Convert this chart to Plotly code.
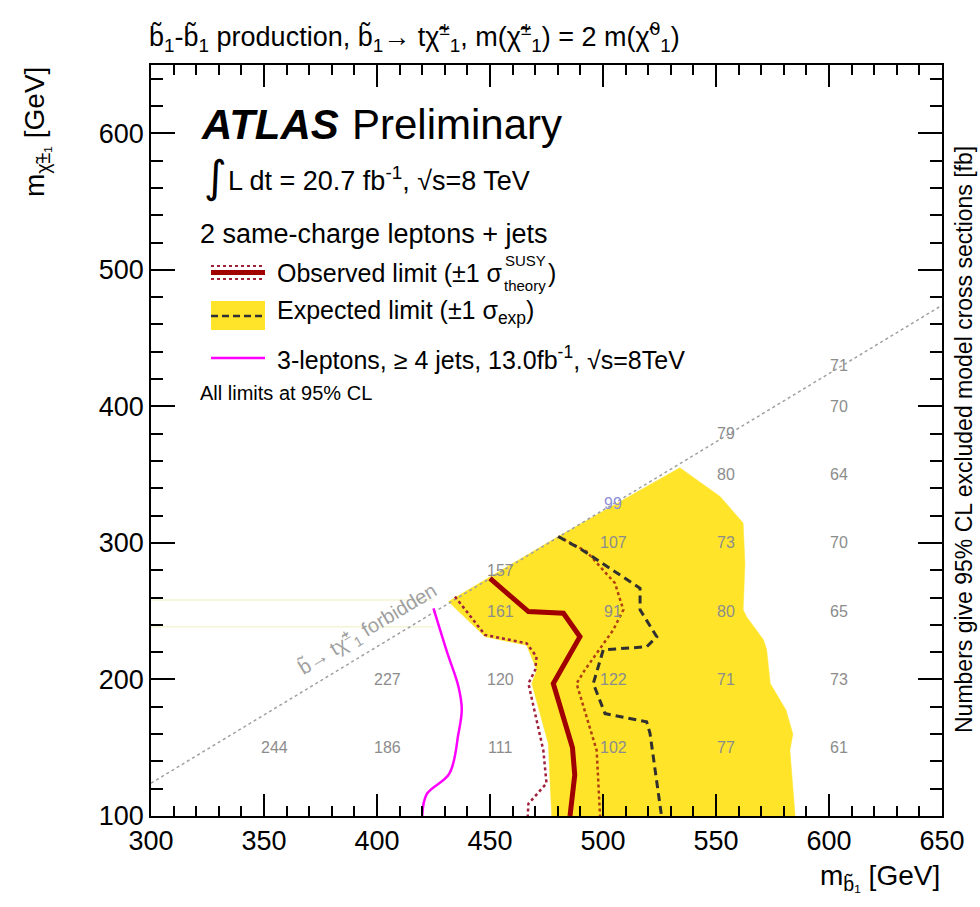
import plotly.graph_objects as go

# ---------------- data ----------------
# kinematic boundary (b~ -> t chi+-), endpoints
forbidden_x = [300, 650]
forbidden_y = [124, 474]

# expected limit +-1 sigma band (yellow)
band_x = [477.3, 475.8, 468.5, 470.7, 466.2, 447.8, 431.6, 480.2, 534.0, 551.8, 562.0,
          562.8, 562.0, 563.5, 571.0, 572.4, 574.0, 581.0, 584.0, 582.7, 585.0]
band_y = [100, 153, 197, 207, 225, 231.3, 257, 304.7, 355, 334, 314.5,
          285, 251, 246, 229, 222, 197, 177.5, 160, 148, 100]

# observed limit
obs_x = [450, 467, 482.5, 489.8, 478, 486.5, 487.5, 485.4]
obs_y = [274, 249.7, 248.5, 231.3, 197, 150, 130, 100]
# observed -1 sigma (theory)
obs_lo_x = [434.5, 447.8, 466.2, 470.6, 470.0, 467.0, 473.6, 475.0, 467.0, 466.7]
obs_lo_y = [260.7, 232.6, 226.5, 216.7, 207, 197, 148, 124, 109, 100]
# observed +1 sigma (theory)
obs_hi_x = [480.2, 492.7, 505.3, 509.0, 504.5, 492.0, 488.3, 497.2, 498.7]
obs_hi_y = [304.7, 293.7, 270.5, 251, 236.2, 207, 197, 148, 100]
# expected limit
exp_x = [480.2, 490.6, 516.4, 516.4, 523.8, 519.4, 500.1, 495.7, 500.9, 519.3, 520.8, 525.9]
exp_y = [304.7, 295, 266.8, 251, 231.3, 224, 221.6, 197, 175, 169, 160.6, 100]
# 3-leptons, >=4 jets, 13.0 fb-1
lep3_x = [425, 431, 436, 437.5, 436, 432, 422, 420]
lep3_y = [252, 220, 195, 178, 160, 131, 116, 100]

# faint horizontal artefact lines
faint_y = [238.6, 258.2]
faint_x = [300, 425]

# excluded cross-section numbers [fb]
num_x = [350, 400, 450, 500, 550, 600,
         400, 450, 500, 550, 600,
         450, 500, 550, 600,
         500, 550, 600,
         550, 600,
         600,
         450, 500, 550, 600]
num_y = [150, 150, 150, 150, 150, 150,
         200, 200, 200, 200, 200,
         250, 250, 250, 250,
         300, 300, 300,
         350, 350,
         400,
         280, 329, 380, 430]
num_txt = ["244", "186", "111", "102", "77", "61",
           "227", "120", "122", "71", "73",
           "161", "91", "80", "65",
           "107", "73", "70",
           "80", "64",
           "70",
           "157", "99", "79", "71"]

x_range = [300, 650]
y_range = [100, 650]

# ---------------- figure ----------------
FONT = "Liberation Sans, Arial, Helvetica, sans-serif"
YELLOW = "#FFE42A"
DARKRED = "#A00000"

fig = go.Figure()

for fy in faint_y:
    fig.add_trace(go.Scatter(x=faint_x, y=[fy, fy], mode="lines",
                             line=dict(color="#F4F4D6", width=1.5),
                             hoverinfo="skip", showlegend=False))

fig.add_trace(go.Scatter(x=band_x, y=band_y, fill="toself", fillcolor=YELLOW,
                         mode="lines", line=dict(color=YELLOW, width=0.5),
                         hoverinfo="skip", showlegend=False))

fig.add_trace(go.Scatter(x=forbidden_x, y=forbidden_y, mode="lines",
                         line=dict(color="#A0A0A0", width=1.5, dash="dot"),
                         showlegend=False))

fig.add_trace(go.Scatter(x=lep3_x, y=lep3_y, mode="lines", line_shape="spline",
                         line=dict(color="#FF00FF", width=2.5), showlegend=False))

fig.add_trace(go.Scatter(x=obs_lo_x, y=obs_lo_y, mode="lines",
                         line=dict(color="#A0203A", width=2.5, dash="dot"), showlegend=False))
fig.add_trace(go.Scatter(x=obs_hi_x, y=obs_hi_y, mode="lines",
                         line=dict(color="#B04010", width=2.5, dash="dot"), showlegend=False))
fig.add_trace(go.Scatter(x=exp_x, y=exp_y, mode="lines",
                         line=dict(color="#303030", width=3, dash="8px,5px"), showlegend=False))
fig.add_trace(go.Scatter(x=obs_x, y=obs_y, mode="lines",
                         line=dict(color=DARKRED, width=5), showlegend=False))

annotations = []
for x, y, t in zip(num_x, num_y, num_txt):
    col = "#8C8C8C"
    if t == "99":
        col = "#9090D8"
    annotations.append(dict(x=x, y=y, xref="x", yref="y", text=t, showarrow=False,
                            xshift=10, font=dict(family=FONT, size=16, color=col)))

# forbidden label
annotations.append(dict(x=396, y=237, xref="x", yref="y",
                        text="b\u0303\u2192 t\u03c7\u0303<sup>\u00b1</sup><sub>1</sub> forbidden",
                        textangle=-31, showarrow=False,
                        font=dict(family=FONT, size=20, color="#A0A0A0")))


def px(xp):
    return (xp - 151) / 791.0


def py(yp):
    return (816 - yp) / 751.0


def txt(x, y, text, size, anchor="left", family=FONT, angle=0, yanchor="middle"):
    annotations.append(dict(x=px(x), y=py(y), xref="paper", yref="paper", xanchor=anchor,
                            yanchor=yanchor, showarrow=False, text=text, textangle=angle,
                            font=dict(family=family, size=size, color="black")))


# title
txt(147, 37,
    "b\u0303<sub>1</sub>-b\u0303<sub>1</sub> production, b\u0303<sub>1</sub>\u2192 t\u03c7\u0303<sup>\u00b1</sup><sub>1</sub>, "
    "m(\u03c7\u0303<sup>\u00b1</sup><sub>1</sub>) = 2 m(\u03c7\u0303<sup>0</sup><sub>1</sub>)", 27)

# ATLAS Preliminary
txt(199, 124, "<b><i>ATLAS</i></b>", 42)
txt(350, 124, "Preliminary", 42)
txt(202, 176, "\u222b", 44, family="DejaVu Sans, " + FONT)
txt(226, 179, "L dt = 20.7 fb<sup>-1</sup>, \u221as=8 TeV", 27)
txt(198, 234, "2 same-charge leptons + jets", 27)
txt(275, 273, "Observed limit (\u00b11 \u03c3", 25)
txt(525, 260, "SUSY", 15, anchor="center")
txt(525, 285, "theory", 15, anchor="center")
txt(546, 273, ")", 25)
txt(275, 312, "Expected limit (\u00b11 \u03c3<sub>exp</sub>)", 25)
txt(275, 358, "3-leptons, \u2265 4 jets, 13.0fb<sup>-1</sup>, \u221as=8TeV", 25)
txt(198, 393, "All limits at 95% CL", 20)

# axis titles
txt(942, 877, "m<sub>b\u0303\u2081</sub> [GeV]", 28, anchor="right")
annotations.append(dict(x=px(36), y=1.0, xref="paper", yref="paper", xanchor="center",
                        yanchor="top", showarrow=False, textangle=-90,
                        text="m<sub>\u03c7\u0303\u00b1\u2081</sub> [GeV]",
                        font=dict(family=FONT, size=28, color="black")))
annotations.append(dict(x=px(964), y=py(440), xref="paper", yref="paper", xanchor="center",
                        yanchor="middle", showarrow=False, textangle=-90,
                        text="Numbers give 95% CL excluded model cross sections [fb]",
                        font=dict(family=FONT, size=23, color="black")))

shapes = [
    dict(type="line", xref="paper", yref="paper", x0=px(211), x1=px(265), y0=py(266), y1=py(266),
         line=dict(color="#A0203A", width=2, dash="dot")),
    dict(type="line", xref="paper", yref="paper", x0=px(211), x1=px(265), y0=py(272.5), y1=py(272.5),
         line=dict(color=DARKRED, width=5)),
    dict(type="line", xref="paper", yref="paper", x0=px(211), x1=px(265), y0=py(279), y1=py(279),
         line=dict(color="#A0203A", width=2, dash="dot")),
    dict(type="rect", xref="paper", yref="paper", x0=px(211), x1=px(265), y0=py(330), y1=py(301),
         fillcolor=YELLOW, line=dict(width=0)),
    dict(type="line", xref="paper", yref="paper", x0=px(211), x1=px(265), y0=py(316), y1=py(316),
         line=dict(color="#303030", width=2.5, dash="7px,4px")),
    dict(type="line", xref="paper", yref="paper", x0=px(211), x1=px(265), y0=py(358), y1=py(358),
         line=dict(color="#FF00FF", width=2.5)),
]

axis_common = dict(showline=True, linecolor="black", linewidth=1.5, mirror="ticks",
                   ticks="inside", tickcolor="black", tickwidth=1.5, showgrid=False,
                   zeroline=False, automargin=False,
                   tickfont=dict(family=FONT, size=27, color="black"))

fig.update_layout(
    width=980, height=907,
    margin=dict(l=151, r=38, t=65, b=91),
    paper_bgcolor="white", plot_bgcolor="white",
    xaxis=dict(range=x_range, dtick=50, tick0=300, ticklen=22,
               minor=dict(dtick=10, ticklen=10, ticks="inside", tickcolor="black", tickwidth=1.5),
               **axis_common),
    yaxis=dict(range=y_range, dtick=100, tick0=100, ticklen=24,
               minor=dict(dtick=20, ticklen=12, ticks="inside", tickcolor="black", tickwidth=1.5),
               **axis_common),
    annotations=annotations,
    shapes=shapes,
    showlegend=False,
)

fig.write_html("out.html", config={"displayModeBar": False},
               post_script="document.body.style.margin='0';document.body.style.overflow='hidden';")
